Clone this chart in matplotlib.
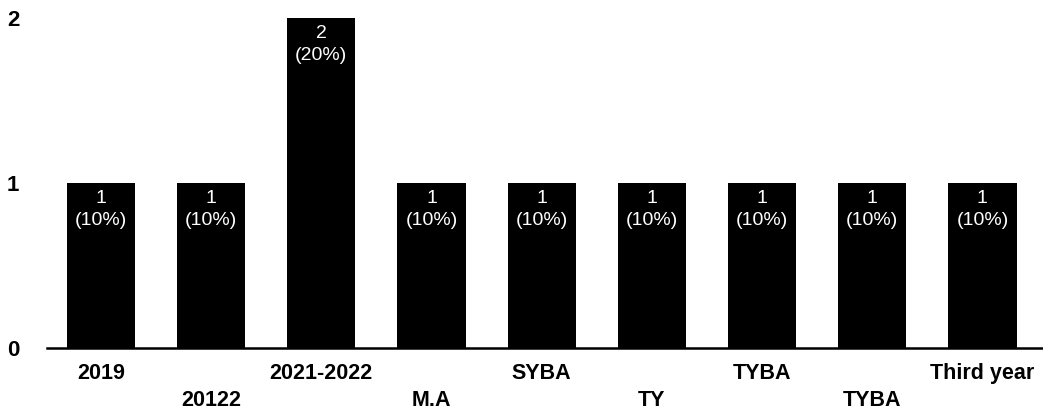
import matplotlib.pyplot as plt
from matplotlib.transforms import blended_transform_factory

plt.rcParams['font.family'] = ['Liberation Sans', 'DejaVu Sans']

# categories and counts
categories = ["2019", "20122", "2021-2022", "M.A", "SYBA", "TY", "TYBA", "TYBA", "Third year"]
counts = [1, 1, 2, 1, 1, 1, 1, 1, 1]
percents = ["10%", "10%", "20%", "10%", "10%", "10%", "10%", "10%", "10%"]

fig = plt.figure(figsize=(10.43, 4.15), dpi=100)
ax = fig.add_axes([47 / 1043, 67 / 415, 996 / 1043, 330 / 415])

x = list(range(len(categories)))
ax.bar(x, counts, width=0.62, color="black")

# value labels inside the bars, near the top
for xi, c, p in zip(x, counts, percents):
    ax.annotate(str(c), (xi, c), xytext=(0, -15), textcoords="offset pixels",
                ha="center", va="center", color="white", fontsize=14)
    ax.annotate("(" + p + ")", (xi, c), xytext=(0, -37), textcoords="offset pixels",
                ha="center", va="center", color="white", fontsize=14)

ax.set_xlim(-0.49, 8.55)
ax.set_ylim(0, 2)
ax.set_yticks([0, 1, 2])
ax.set_xticks(x)
ax.set_xticklabels([])

# alternating two-row category labels
trans = blended_transform_factory(ax.transData, ax.transAxes)
for i, name in enumerate(categories):
    dy = -25 if i % 2 == 0 else -52
    ax.annotate(name, (i, 0), xycoords=trans, xytext=(0, dy), textcoords="offset pixels",
                ha="center", va="center", fontsize=15.5, fontweight="bold")

ax.tick_params(axis="both", length=0)
ax.tick_params(axis="y", pad=20, labelsize=16)
for lbl in ax.get_yticklabels():
    lbl.set_fontweight("bold")

for side in ["top", "right", "left"]:
    ax.spines[side].set_visible(False)
ax.spines["bottom"].set_linewidth(1.8)

fig.savefig("out.png", dpi=100)
